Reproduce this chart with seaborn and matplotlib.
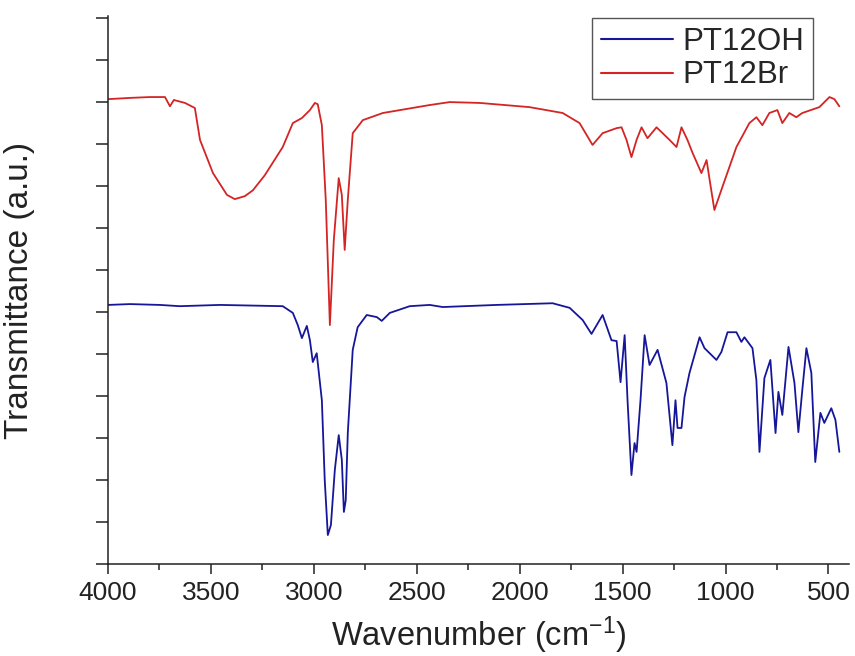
import numpy as np
import pandas as pd
import matplotlib
matplotlib.use('Agg')
import matplotlib.pyplot as plt
from matplotlib.ticker import MultipleLocator
import seaborn as sns

# FTIR spectra (wavenumber in cm-1, transmittance in a.u.)
br_wavenumber = [4000, 3893, 3796, 3723, 3699, 3680, 3626, 3578, 3553, 3490, 3422, 3384, 3335, 3296,
                 3238, 3151, 3102, 3058, 3019, 2995, 2981, 2961, 2942, 2922, 2903, 2879, 2864, 2850,
                 2835, 2811, 2762, 2665, 2437, 2340, 2194, 1952, 1791, 1709, 1646, 1597, 1529, 1505,
                 1481, 1457, 1432, 1408, 1379, 1335, 1272, 1238, 1214, 1185, 1160, 1117, 1092, 1073,
                 1054, 1015, 947, 884, 850, 821, 787, 748, 724, 690, 656, 627, 544, 495, 471, 447]
br_trans = [110.7, 111.0, 111.2, 111.2, 109.0, 110.5, 109.8, 108.6, 101.0, 93.1, 87.9, 86.9, 87.6, 89.0,
            92.6, 99.3, 105.0, 106.2, 108.1, 109.8, 109.5, 104.5, 86.7, 56.9, 77.1, 91.9, 87.9, 74.8,
            86.7, 102.6, 105.7, 107.4, 109.3, 110.0, 109.8, 108.8, 107.4, 105.0, 99.8, 102.6, 103.8, 104.0,
            101.0, 96.9, 101.0, 104.0, 101.4, 104.0, 101.0, 99.3, 104.0, 101.0, 97.9, 93.1, 96.2, 90.2,
            84.3, 89.8, 99.3, 105.0, 106.4, 104.5, 107.4, 108.1, 105.0, 107.4, 106.4, 107.4, 108.8, 111.2,
            110.7, 109.0]

oh_wavenumber = [4000, 3893, 3748, 3651, 3456, 3151, 3102, 3078, 3058, 3034, 3019, 3005, 2986, 2961,
                 2947, 2932, 2917, 2898, 2879, 2864, 2854, 2845, 2835, 2811, 2787, 2743, 2694, 2670,
                 2631, 2534, 2437, 2374, 2112, 1840, 1757, 1694, 1651, 1597, 1554, 1529, 1510, 1490,
                 1476, 1457, 1442, 1432, 1413, 1393, 1369, 1330, 1287, 1258, 1243, 1233, 1214, 1199,
                 1175, 1126, 1102, 1044, 1020, 990, 947, 923, 908, 869, 850, 835, 811, 782, 757, 743,
                 724, 694, 665, 646, 627, 607, 583, 564, 539, 520, 486, 466, 447]
oh_trans = [61.7, 61.9, 61.7, 61.4, 61.7, 61.4, 59.8, 56.9, 53.8, 56.7, 53.3, 48.1, 50.2, 39.0,
            20.0, 6.9, 9.3, 22.4, 30.7, 24.8, 12.4, 15.2, 31.2, 51.0, 56.4, 59.3, 58.8, 57.9,
            59.8, 61.4, 61.7, 61.2, 61.7, 62.1, 61.0, 58.1, 54.8, 59.3, 53.3, 53.1, 43.3, 54.5,
            39.0, 21.2, 28.8, 26.7, 39.0, 54.5, 47.4, 51.0, 43.1, 28.3, 39.0, 32.4, 32.4, 39.8,
            45.5, 54.0, 51.4, 48.6, 50.5, 55.2, 55.2, 52.9, 54.0, 51.4, 43.8, 26.7, 44.3, 48.6, 31.2, 41.0,
            35.5, 51.7, 43.1, 31.4, 41.4, 51.4, 45.5, 24.3, 36.0, 33.6, 37.1, 34.3, 26.7]

series_names = ['PT12OH', 'PT12Br']
series_colors = {'PT12OH': '#16169a', 'PT12Br': '#d42424'}

df = pd.concat([
    pd.DataFrame({'wavenumber': oh_wavenumber, 'trans': oh_trans, 'sample': 'PT12OH'}),
    pd.DataFrame({'wavenumber': br_wavenumber, 'trans': br_trans, 'sample': 'PT12Br'}),
], ignore_index=True)

sns.set_style('ticks')
plt.rcParams['font.family'] = ['Liberation Sans', 'DejaVu Sans']
plt.rcParams['mathtext.fontset'] = 'custom'
plt.rcParams['mathtext.rm'] = 'Liberation Sans'
plt.rcParams['mathtext.it'] = 'Liberation Sans'

fig = plt.figure(figsize=(8.55, 6.56), dpi=100)
ax = fig.add_axes([0.1263, 0.1402, 0.8667, 0.8354])

sns.lineplot(data=df, x='wavenumber', y='trans', hue='sample', hue_order=series_names,
             palette=series_colors, linewidth=1.3, sort=False, ax=ax)

ax.set_xlim(4000, 400)
ax.set_ylim(0, 130.5)
ax.set_xticks([4000, 3500, 3000, 2500, 2000, 1500, 1000, 500])
ax.xaxis.set_minor_locator(MultipleLocator(250))
ax.set_yticks(np.arange(0, 131, 10))
ax.set_yticklabels([])

for s in ['left', 'bottom']:
    ax.spines[s].set_linewidth(1.1)
    ax.spines[s].set_color('#222222')
sns.despine(ax=ax)

ax.tick_params(axis='x', which='major', direction='out', length=7.5, width=1.1, pad=5,
               labelsize=19, colors='#222222')
ax.tick_params(axis='x', which='minor', direction='out', length=4, width=1.1, colors='#222222')
ax.tick_params(axis='y', which='major', direction='out', length=8.5, width=1.1, colors='#222222')

ax.set_xlabel(r'Wavenumber (cm$^{\mathregular{-1}}$)', fontsize=23.5, color='#222222')
ax.set_ylabel('Transmittance (a.u.)', fontsize=24, color='#222222')
ax.xaxis.set_label_coords(0.5, -0.092)
ax.yaxis.set_label_coords(-0.099, 0.5)

leg = ax.legend(loc='upper right', bbox_to_anchor=(0.951, 0.9964), fontsize=22.5,
                frameon=True, fancybox=False, framealpha=1, edgecolor='#555555',
                handlelength=2.3, handletextpad=0.3, labelspacing=0.12, borderpad=0.28,
                borderaxespad=0)
leg.get_frame().set_linewidth(1.0)
for line in leg.get_lines():
    line.set_linewidth(1.5)

fig.savefig('out.png', dpi=100)
